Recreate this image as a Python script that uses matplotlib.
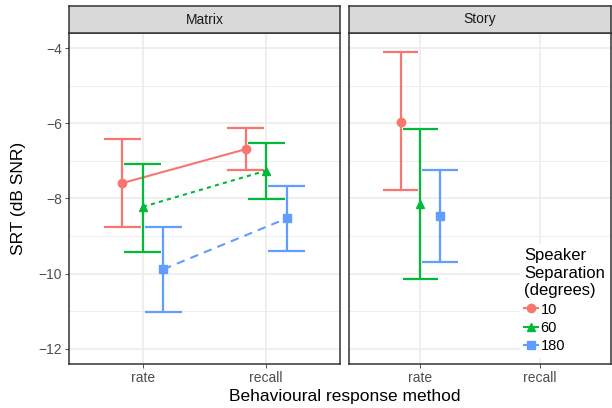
import matplotlib.pyplot as plt
import numpy as np
from matplotlib.lines import Line2D

plt.rcParams['font.family'] = ['Liberation Sans', 'DejaVu Sans']

# data
methods = ['rate', 'recall']
separations = ['10', '60', '180']
colors = ['#F8766D', '#00BA38', '#619CFF']
markers = ['o', '^', 's']
linestyles = ['-', (0, (2, 2)), (0, (4, 3))]

# Matrix panel: [rate, recall]
matrix_mean = {'10': [-7.59, -6.69], '60': [-8.22, -7.26], '180': [-9.88, -8.53]}
matrix_hi = {'10': [-6.42, -6.12], '60': [-7.09, -6.53], '180': [-8.75, -7.66]}
matrix_lo = {'10': [-8.77, -7.24], '60': [-9.41, -8.02], '180': [-11.02, -9.39]}

# Story panel: rate only
story_mean = {'10': -5.96, '60': -8.14, '180': -8.46}
story_hi = {'10': -4.11, '60': -6.15, '180': -7.25}
story_lo = {'10': -7.77, '60': -10.13, '180': -9.69}

W, H = 612, 408
fig = plt.figure(figsize=(W / 100, H / 100), dpi=100)


def px_axes(x0, y0, x1, y1):
    return fig.add_axes([x0 / W, 1 - y1 / H, (x1 - x0) / W, (y1 - y0) / H])


ax1 = px_axes(69, 33, 340, 364)
ax2 = px_axes(349, 33, 611, 364)
s1 = px_axes(69, 6, 340, 33)
s2 = px_axes(349, 6, 611, 33)

dodge = [-1 / 6, 0, 1 / 6]
barw = 0.15
xpos = np.arange(1, len(methods) + 1)

for ax in (ax1, ax2):
    ax.set_xlim(0.4, 2.6)
    ax.set_ylim(-12.4, -3.6)
    ax.set_yticks([-12, -10, -8, -6, -4])
    ax.set_yticks([-11, -9, -7, -5], minor=True)
    ax.set_xticks(xpos)
    ax.set_xticklabels(methods)
    ax.grid(True, which='major', color='#EBEBEB', lw=1.1, zorder=0)
    ax.grid(True, which='minor', axis='y', color='#EBEBEB', lw=0.6, zorder=0)
    ax.tick_params(which='major', length=3, width=0.6, color='#333333',
                   labelcolor='#4D4D4D', labelsize=10, pad=2)
    ax.tick_params(which='minor', length=0)
    for sp in ax.spines.values():
        sp.set_color('#333333')
        sp.set_linewidth(1.1)
        sp.set_zorder(10)
    ax.set_axisbelow(True)
ax2.set_yticklabels([])
ax2.tick_params(axis='y', length=0)

for i, s in enumerate(separations):
    xs = xpos + dodge[i]
    m = np.array(matrix_mean[s])
    hi = np.array(matrix_hi[s])
    lo = np.array(matrix_lo[s])
    ax1.plot(xs, m, color=colors[i], ls=linestyles[i], lw=1.5, zorder=3)
    ax1.vlines(xs, lo, hi, color=colors[i], lw=1.6, zorder=3)
    ax1.hlines(np.r_[lo, hi], np.r_[xs, xs] - barw, np.r_[xs, xs] + barw,
               color=colors[i], lw=1.6, zorder=3)
    ax1.plot(xs, m, ls='none', marker=markers[i], ms=6, color=colors[i], zorder=4)

    x = xpos[0] + dodge[i]
    ax2.vlines(x, story_lo[s], story_hi[s], color=colors[i], lw=1.6, zorder=3)
    ax2.hlines([story_lo[s], story_hi[s]], x - barw, x + barw,
               color=colors[i], lw=1.6, zorder=3)
    ax2.plot(x, story_mean[s], ls='none', marker=markers[i], ms=6,
             color=colors[i], zorder=4)

for s, name in ((s1, 'Matrix'), (s2, 'Story')):
    s.set_facecolor('#D9D9D9')
    s.set_xticks([])
    s.set_yticks([])
    for sp in s.spines.values():
        sp.set_color('#333333')
        sp.set_linewidth(1.1)
    s.text(0.5, 0.5, name, ha='center', va='center', fontsize=10,
           color='#1A1A1A', transform=s.transAxes)

fig.text(19 / W, 1 - 198 / H, 'SRT (dB SNR)', rotation=90, ha='center',
         va='center', fontsize=12.5)
fig.text(345 / W, 1 - 397 / H, 'Behavioural response method', ha='center',
         va='center', fontsize=12.5)

handles = [Line2D([], [], color=colors[i], marker=markers[i], ms=6, lw=1.5,
                  ls='-') for i in range(len(separations))]
leg = ax2.legend(handles, separations, title='Speaker\nSeparation\n(degrees)',
                 loc='upper left', bbox_to_anchor=(520 / W, 1 - 244 / H),
                 bbox_transform=fig.transFigure, frameon=True,
                 fontsize=10.5, title_fontsize=12, handlelength=0.9,
                 handletextpad=0.2, labelspacing=0.3, borderpad=0.3,
                 borderaxespad=0.0)
leg.get_frame().set_edgecolor('none')
leg.get_frame().set_facecolor('white')
leg.get_frame().set_alpha(1)
leg._legend_box.align = 'left'

fig.savefig('out.png', dpi=100)
